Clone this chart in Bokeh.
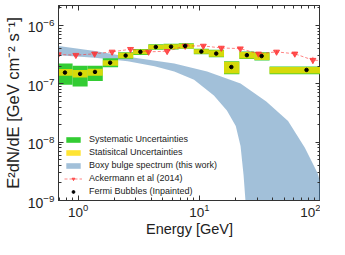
from bokeh.plotting import figure
from bokeh.models import LogAxis, Range1d, Legend, LegendItem, LogTicker, Whisker, ColumnDataSource
from bokeh.embed import file_html
from bokeh.resources import INLINE

# ---------------- data ----------------
# Fermi bubbles (inpainted): energy bins [GeV] and E^2 dN/dE [GeV cm^-2 s^-1]
bin_lo = [0.676, 0.902, 1.20, 1.60, 2.14, 2.85, 3.80, 5.07, 6.76, 9.02, 12.0, 16.0, 21.4, 28.5, 38.0]
bin_hi = [0.902, 1.20, 1.60, 2.14, 2.85, 3.80, 5.07, 6.76, 9.02, 12.0, 16.0, 21.4, 28.5, 38.0, 100.0]
fb_energy = [0.78, 1.04, 1.38, 1.84, 2.47, 3.27, 4.38, 5.85, 7.65, 10.4, 13.8, 18.4, 24.7, 32.7, 76.7]
fb_flux = [1.56e-7, 1.48e-7, 1.60e-7, 2.30e-7, 3.05e-7, 3.53e-7, 4.28e-7, 4.33e-7, 4.45e-7,
           3.57e-7, 3.30e-7, 1.94e-7, 3.10e-7, 2.99e-7, 1.73e-7]
stat_hi = [1.80e-7, 1.73e-7, 1.82e-7, 2.53e-7, 3.40e-7, 3.89e-7, 4.69e-7, 4.75e-7, 4.85e-7,
           3.92e-7, 3.77e-7, 2.39e-7, 3.52e-7, 3.40e-7, 1.94e-7]
stat_lo = [1.37e-7, 1.28e-7, 1.38e-7, 2.04e-7, 2.74e-7, 3.20e-7, 3.92e-7, 3.95e-7, 4.05e-7,
           3.27e-7, 2.90e-7, 1.50e-7, 2.72e-7, 2.55e-7, 1.50e-7]
sys_hi = [2.23e-7, 2.04e-7, 2.04e-7, 2.74e-7, 3.47e-7, 3.95e-7, 4.78e-7, 4.84e-7, 4.94e-7,
          3.99e-7, 3.84e-7, 2.44e-7, 3.59e-7, 3.47e-7, 1.98e-7]
sys_lo = [9.6e-8, 9.0e-8, 1.12e-7, 1.93e-7, 2.68e-7, 3.13e-7, 3.85e-7, 3.88e-7, 3.98e-7,
          3.21e-7, 2.84e-7, 1.46e-7, 2.66e-7, 2.50e-7, 1.46e-7]

# Ackermann et al (2014)
ack_energy = [0.687, 0.96, 1.37, 1.91, 2.71, 3.82, 5.43, 7.65, 10.8, 15.2, 21.8, 30.8, 43.4, 61.4, 86.5, 122.0]
ack_flux = [3.18e-7, 3.10e-7, 3.27e-7, 3.53e-7, 3.92e-7, 3.53e-7, 3.62e-7, 4.46e-7, 4.46e-7,
            4.12e-7, 4.01e-7, 3.27e-7, 3.53e-7, 3.27e-7, 2.55e-7, 2.45e-7]
ack_err = [2.0e-8, 2.0e-8, 2.0e-8, 2.2e-8, 2.5e-8, 2.2e-8, 2.3e-8, 2.8e-8, 2.8e-8,
           2.6e-8, 2.6e-8, 2.2e-8, 2.4e-8, 2.6e-8, 3.5e-8, 4.0e-8]

# Boxy bulge spectrum band (upper and lower edges)
band_up_energy = [0.60, 0.69, 1.38, 2.57, 6.22, 11.6, 21.9, 35.7, 54.0, 74.3, 94.9, 100.0, 124.0]
band_upper = [4.6e-7, 4.46e-7, 3.66e-7, 2.90e-7, 2.23e-7, 1.62e-7, 1.01e-7, 5.0e-8, 2.3e-8,
              8.0e-9, 2.9e-9, 1.96e-9, 4.0e-10]
band_lo_energy = [0.60, 0.69, 1.38, 2.57, 4.28, 6.22, 9.06, 13.2, 16.9, 20.0, 21.9, 23.2, 24.1, 24.8]
band_lower = [3.15e-7, 3.08e-7, 2.79e-7, 2.43e-7, 2.00e-7, 1.62e-7, 1.17e-7, 6.3e-8, 3.5e-8,
              1.89e-8, 8.6e-9, 2.7e-9, 9.3e-10, 4.0e-10]

x_start, x_end = 0.69, 100.0
y_start, y_end = 1e-9, 2.2e-6

FONT = "Liberation Sans"
TXT = "#222222"

p = figure(width=320, height=234, x_axis_type="log", y_axis_type="log",
           x_range=Range1d(x_start, x_end), y_range=Range1d(y_start, y_end),
           output_backend="svg", toolbar_location=None, margin=(5, 0, 0, 0),
           min_border_left=54, min_border_right=0, min_border_top=0, min_border_bottom=37)
p.xgrid.visible = False
p.ygrid.visible = False
p.outline_line_color = "#333333"
p.outline_line_width = 1
p.background_fill_color = "white"

# band
band_x = band_up_energy + band_lo_energy[::-1]
band_y = band_upper + band_lower[::-1]
band_r = p.patch(band_x, band_y, fill_color="steelblue", fill_alpha=0.5, line_color=None)

# systematic / statistical boxes
src = ColumnDataSource(dict(l=bin_lo, r=bin_hi, sl=sys_lo, sh=sys_hi, tl=stat_lo, th=stat_hi,
                            x=fb_energy, y=fb_flux))
sys_r = p.quad(left="l", right="r", bottom="sl", top="sh", source=src,
               fill_color="#33cc33", fill_alpha=1.0, line_color=None)
stat_r = p.quad(left="l", right="r", bottom="tl", top="th", source=src,
                fill_color="#ffdd00", fill_alpha=0.8, line_color=None)

# Ackermann
asrc = ColumnDataSource(dict(x=ack_energy, y=ack_flux,
                             lo=[f - e for f, e in zip(ack_flux, ack_err)],
                             hi=[f + e for f, e in zip(ack_flux, ack_err)]))
ack_line = p.line("x", "y", source=asrc, line_color="#ff3333", line_alpha=0.6,
                  line_dash="3 2", line_width=1)
wh = Whisker(base="x", lower="lo", upper="hi", source=asrc, line_color="#ff3333", line_alpha=0.6,
             line_width=1, upper_head=None, lower_head=None)
p.add_layout(wh)
ack_pts = p.scatter("x", "y", source=asrc, marker="inverted_triangle", size=6,
                    fill_color="#ff3333", fill_alpha=0.8, line_color="#ff3333", line_alpha=0.8)

# Fermi bubble points
fb_r = p.scatter("x", "y", source=src, marker="circle", size=3.5,
                 fill_color="black", line_color="black")

# axes styling
def style_axis(ax, labels=True):
    ax.major_tick_in = 5
    ax.major_tick_out = 0
    ax.minor_tick_in = 3
    ax.minor_tick_out = 0
    ax.axis_line_color = "#333333"
    ax.major_tick_line_color = "#333333"
    ax.minor_tick_line_color = "#333333"
    if labels:
        ax.major_label_text_font = FONT
        ax.major_label_text_font_size = "14px"
        ax.major_label_text_color = TXT
        ax.axis_label_text_font = FONT
        ax.axis_label_text_font_size = "15px"
        ax.axis_label_text_font_style = "normal"
        ax.axis_label_text_color = TXT
    else:
        ax.major_label_text_font_size = "0px"
        ax.major_label_text_color = None
        ax.major_label_standoff = 0

p.xaxis.axis_label = "Energy [GeV]"
p.yaxis.axis_label = "E²dN/dE [GeV cm⁻² s⁻¹]"
style_axis(p.xaxis[0])
style_axis(p.yaxis[0])
p.yaxis.axis_label_text_font_size = "16.5px"
p.xaxis.major_label_text_font_size = "13.5px"
p.xaxis.axis_label_text_font_size = "14.5px"
p.xaxis.major_label_standoff = 3
p.yaxis.major_label_standoff = 4
p.xaxis.axis_label_standoff = 1
p.yaxis.axis_label_standoff = 3
p.xaxis.ticker = LogTicker(num_minor_ticks=10)
p.yaxis.ticker = LogTicker(num_minor_ticks=10)

ax_r = LogAxis(ticker=LogTicker(num_minor_ticks=10))
style_axis(ax_r, labels=False)
p.add_layout(ax_r, "right")
ax_t = LogAxis(ticker=LogTicker(num_minor_ticks=10))
style_axis(ax_t, labels=False)
p.add_layout(ax_t, "above")

legend = Legend(items=[
    LegendItem(label="Systematic Uncertainties", renderers=[sys_r]),
    LegendItem(label="Statisitcal Uncertainties", renderers=[stat_r]),
    LegendItem(label="Boxy bulge spectrum (this work)", renderers=[band_r]),
    LegendItem(label="Ackermann et al (2014)", renderers=[ack_line, ack_pts]),
    LegendItem(label="Fermi Bubbles (Inpainted)", renderers=[fb_r]),
], location=(6, 4))
legend.label_text_font = FONT
legend.label_text_font_size = "9px"
legend.label_text_color = TXT
legend.label_height = 10
legend.glyph_height = 7
legend.glyph_width = 18
legend.label_standoff = 7
legend.spacing = 3
legend.padding = 2
legend.margin = 0
legend.border_line_color = None
legend.background_fill_alpha = 0.0
p.add_layout(legend)

open("out.html", "w").write(file_html(p, INLINE))
